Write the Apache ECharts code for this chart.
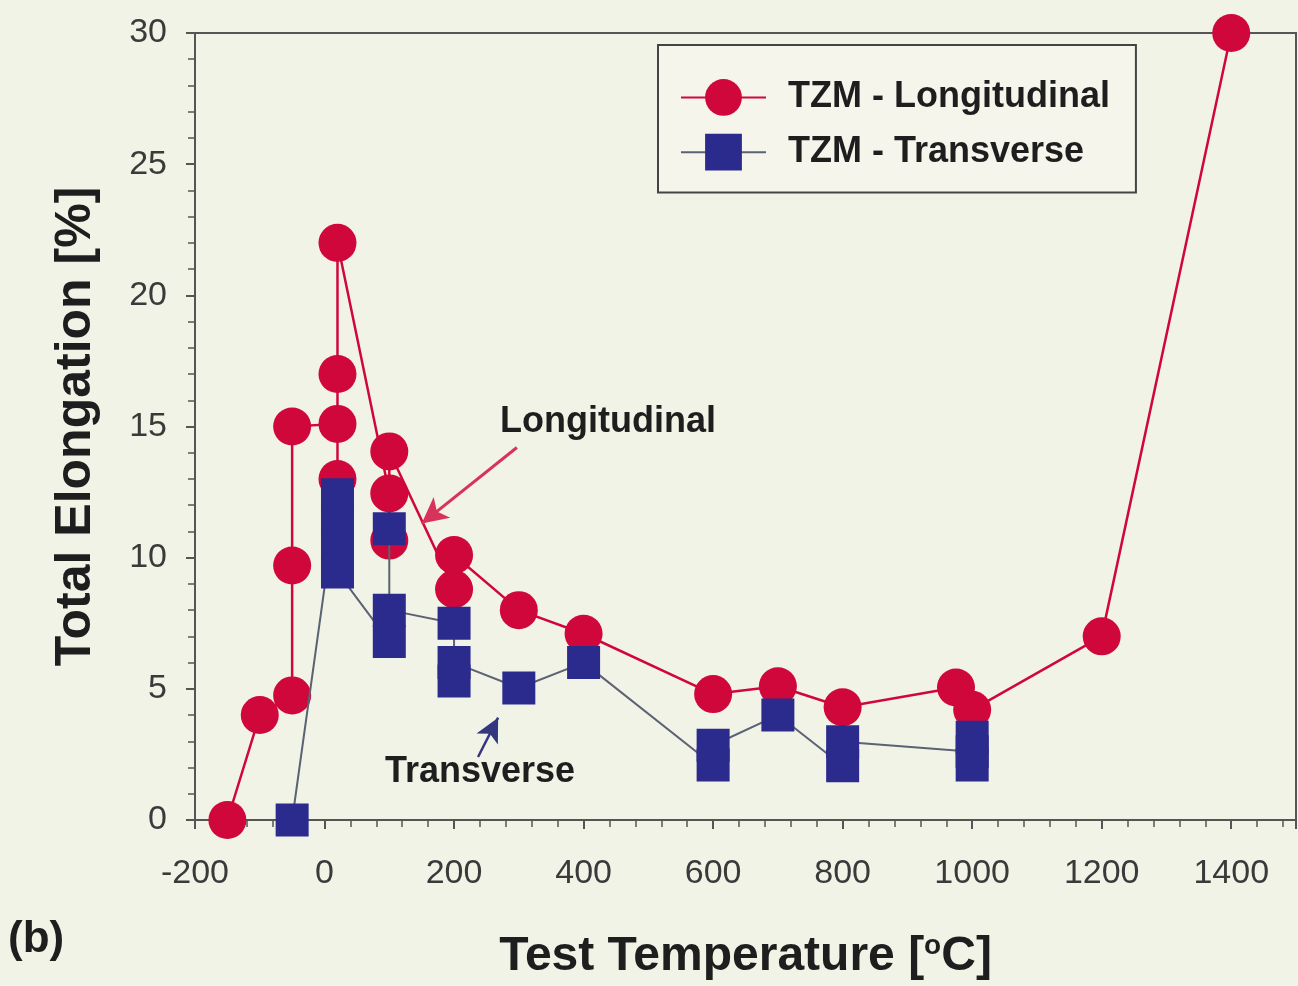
<!DOCTYPE html>
<html>
<head>
<meta charset="utf-8">
<title>TZM total elongation</title>
<script src="https://cdn.jsdelivr.net/npm/echarts@6/dist/echarts.min.js"></script>
<style>
  html, body { margin: 0; padding: 0; background: #f2f3e7; }
  #chart { width: 1298px; height: 986px; }
</style>
</head>
<body>
<div id="chart"></div>
<script>
// test temperature [°C] and total elongation [%]
const longTemp = [-150, -100, -50, -50, -50, 20, 20, 20, 20, 100, 100, 100, 200, 200, 300, 400, 600, 700, 800, 975, 1000, 1200, 1400]
const longElong = [0, 4.0, 4.75, 9.7, 15.0, 15.1, 13.0, 17.0, 22.0, 12.45, 10.65, 14.05, 8.8, 10.1, 8.0, 7.1, 4.8, 5.1, 4.3, 5.05, 4.2, 7.0, 30.0]

const transTemp = [-50, 20, 20, 20, 20, 100, 100, 100, 200, 200, 200, 300, 400, 600, 600, 700, 800, 800, 1000, 1000, 1000]
const transElong = [0, 12.4, 11.4, 10.4, 9.45, 6.8, 11.1, 8.0, 7.5, 5.3, 6.0, 5.03, 6.0, 2.1, 2.85, 4.0, 2.07, 2.98, 2.6, 3.15, 2.1]

// annotation arrows (start, end) in data units
const longArrow = [[297, 14.2], [150, 11.3]]
const transArrow = [[237, 2.4], [268, 3.9]]

const xTicks = { min: -200, max: 1500, interval: 200 }
const yTicks = { min: 0, max: 30, interval: 5 }

const red = '#d0073b'
const navy = '#2b2b8e'
const font = '"Liberation Sans", Arial, Helvetica, sans-serif'

const chart = echarts.init(document.getElementById('chart'))

const zip = (xs, ys) => xs.map((x, i) => [x, ys[i]])

chart.setOption({
  backgroundColor: '#f2f3e7',
  animation: false,
  textStyle: { fontFamily: font },
  grid: {
    left: 195,
    right: 2,
    top: 33,
    bottom: 163,
    show: true,
    borderColor: '#555',
    borderWidth: 2,
    backgroundColor: 'transparent'
  },
  legend: {
    left: 658,
    top: 45,
    orient: 'vertical',
    padding: [34, 26, 22, 22],
    itemGap: 18,
    itemWidth: 85,
    itemHeight: 46,
    borderColor: '#444',
    borderWidth: 2,
    backgroundColor: '#f5f5ec',
    textStyle: {
      fontFamily: font,
      fontSize: 36,
      fontWeight: 'bold',
      color: '#1e1e1e',
      padding: [0, 0, 0, 17]
    },
    data: ['TZM - Longitudinal', 'TZM - Transverse']
  },
  xAxis: {
    type: 'value',
    min: xTicks.min,
    max: xTicks.max,
    interval: xTicks.interval,
    name: 'Test Temperature [{sup|o}C]',
    nameLocation: 'middle',
    nameGap: 112,
    nameTextStyle: {
      fontFamily: font,
      fontSize: 48,
      fontWeight: 'bold',
      color: '#1e1e1e',
      rich: {
        sup: { fontFamily: font, fontSize: 28, fontWeight: 'bold', color: '#1e1e1e', verticalAlign: 'top', padding: [0, 0, 22, 0] }
      }
    },
    axisLine: { onZero: false, lineStyle: { color: '#555', width: 2 } },
    axisTick: { inside: false, length: 9, lineStyle: { color: '#555', width: 2 } },
    minorTick: { show: true, splitNumber: 5, length: 7, lineStyle: { color: '#555', width: 1.5 } },
    splitLine: { show: false },
    axisLabel: {
      showMaxLabel: false,
      margin: 37,
      fontFamily: font,
      fontSize: 34,
      color: '#3a3a3a',
      formatter: v => String(v)
    }
  },
  yAxis: {
    type: 'value',
    min: yTicks.min,
    max: yTicks.max,
    interval: yTicks.interval,
    name: 'Total Elongation [%]',
    nameLocation: 'middle',
    nameGap: 94,
    nameTextStyle: {
      fontFamily: font,
      fontSize: 50,
      fontWeight: 'bold',
      color: '#1e1e1e'
    },
    axisLine: { show: true, onZero: false, lineStyle: { color: '#555', width: 2 } },
    axisTick: { show: true, inside: false, length: 9, lineStyle: { color: '#555', width: 2 } },
    minorTick: { show: true, splitNumber: 5, length: 7, lineStyle: { color: '#555', width: 1.5 } },
    splitLine: { show: false },
    axisLabel: {
      margin: 28,
      fontFamily: font,
      fontSize: 34,
      color: '#3a3a3a'
    }
  },
  series: [
    {
      name: 'TZM - Longitudinal',
      type: 'line',
      data: zip(longTemp, longElong),
      symbol: 'circle',
      symbolSize: 38,
      lineStyle: { color: red, width: 2.5 },
      itemStyle: { color: red, borderWidth: 0 },
      z: 2,
      markLine: {
        silent: true,
        symbol: ['none', 'arrow'],
        symbolSize: [20, 26],
        label: { show: false },
        lineStyle: { color: '#d8335b', width: 3, type: 'solid' },
        data: [[{ coord: longArrow[0] }, { coord: longArrow[1] }]]
      }
    },
    {
      name: 'TZM - Transverse',
      type: 'line',
      data: zip(transTemp, transElong),
      symbol: 'rect',
      symbolSize: 33,
      lineStyle: { color: '#5b6273', width: 2 },
      itemStyle: { color: navy, borderWidth: 0 },
      z: 3,
      markLine: {
        silent: true,
        symbol: ['none', 'arrow'],
        symbolSize: [18, 24],
        label: { show: false },
        lineStyle: { color: '#33387e', width: 2.5, type: 'solid' },
        data: [[{ coord: transArrow[0] }, { coord: transArrow[1] }]]
      }
    }
  ],
  graphic: [
    {
      type: 'text',
      left: 500,
      top: 404,
      style: { text: 'Longitudinal', fontFamily: font, fontSize: 36, fontWeight: 'bold', fill: '#1e1e1e' }
    },
    {
      type: 'text',
      left: 385,
      top: 754,
      style: { text: 'Transverse', fontFamily: font, fontSize: 36, fontWeight: 'bold', fill: '#1e1e1e' }
    },
    {
      type: 'text',
      left: 8,
      top: 918,
      style: { text: '(b)', fontFamily: font, fontSize: 44, fontWeight: 'bold', fill: '#1e1e1e' }
    }
  ]
})

window.addEventListener('resize', () => chart.resize())
</script>
</body>
</html>
